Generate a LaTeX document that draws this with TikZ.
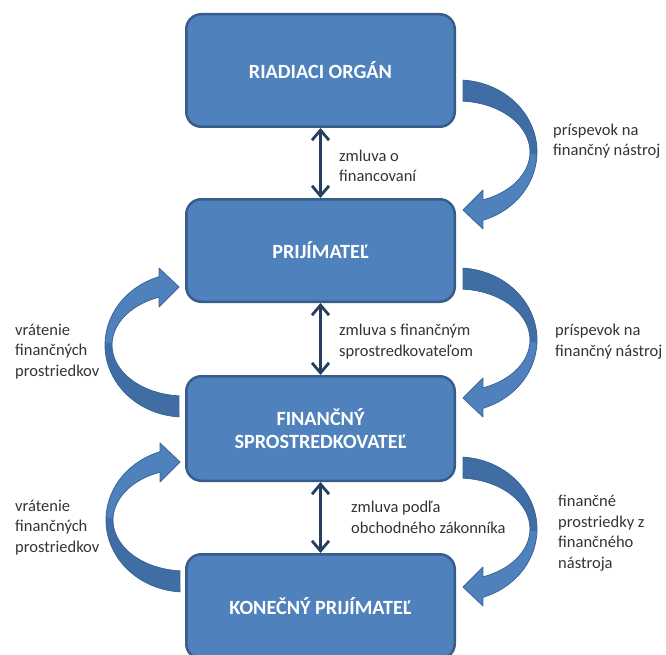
\documentclass[tikz,border=0pt]{standalone}
\usepackage{fontspec}
\setmainfont{Carlito}
\usetikzlibrary{arrows.meta}
\definecolor{boxfill}{HTML}{4F81BD}
\definecolor{boxline}{HTML}{385D8A}
\definecolor{navy}{HTML}{243F60}
\definecolor{arrfill}{HTML}{4F81BD}
\definecolor{arrdark}{HTML}{3F6DA4}
\definecolor{arrline}{HTML}{3A6699}
\definecolor{txt}{HTML}{333333}
\tikzset{
  entity/.style={draw=boxline, line width=2.5pt, fill=boxfill, rounded corners=15pt,
    minimum width=268.5pt, inner sep=0pt, align=center, text=white,
    font=\fontsize{20.2}{23}\selectfont\bfseries},
  lbl/.style={align=left, inner sep=0pt, text=txt, font=\fontsize{16.5}{20.5}\selectfont, anchor=base west},
  dbl/.style={draw=navy, line width=2.8pt,
    {Straight Barb[length=10pt,width=17pt]}-{Straight Barb[length=10pt,width=17pt]}},
  curvarrow/.pic={
    \path[fill=arrfill]
      (0,130) -- plot[domain=93.6:251.6,samples=50,variable=\t] ({5+79*cos(\t)},{58+72*sin(\t)})
      -- (-20,-19) -- (0,0) -- (-20,20)
      -- plot[domain=249.7:94,samples=50,variable=\t] ({5+72*cos(\t)},{58+51*sin(\t)}) -- cycle;
    \path[fill=arrdark]
      (0,130) -- plot[domain=93.6:182,samples=40,variable=\t] ({5+79*cos(\t)},{58+72*sin(\t)})
      -- plot[domain=182:94,samples=40,variable=\t] ({5+72*cos(\t)},{58+51*sin(\t)}) -- cycle;
    \path[draw=arrline, line width=0.8pt, line join=round]
      (0,130) -- plot[domain=93.6:251.6,samples=50,variable=\t] ({5+79*cos(\t)},{58+72*sin(\t)})
      -- (-20,-19) -- (0,0) -- (-20,20)
      -- plot[domain=249.7:94,samples=50,variable=\t] ({5+72*cos(\t)},{58+51*sin(\t)}) -- cycle;
  }
}
\begin{document}
\begin{tikzpicture}[x=1pt,y=-1pt]
\useasboundingbox (0,0) rectangle (666,655);
\clip (0,0) rectangle (666,655);

% boxes
\node[entity, minimum height=112.5pt] (b1) at (320.5,70.5) {RIADIACI ORGÁN};
\node[entity, minimum height=102.5pt] (b2) at (320.5,250.5) {PRIJÍMATEĽ};
\node[entity, minimum height=104.5pt] (b3) at (320.5,428.5) {FINANČNÝ\\SPROSTREDKOVATEĽ};
\node[entity, minimum height=104.5pt] (b4) at (320.5,606.5) {KONEČNÝ PRIJÍMATEĽ};

% double arrows
\draw[dbl] (b1.south) -- (b2.north);
\draw[dbl] (b2.south) -- (b3.north);
\draw[dbl] (b3.south) -- (b4.north);

% curved arrows
\pic[rotate=180] at (463,210) {curvarrow};
\pic[rotate=180] at (463,398) {curvarrow};
\pic[rotate=180] at (463,587) {curvarrow};
\pic at (179,287) {curvarrow};
\pic at (180,462) {curvarrow};

% labels (anchor at baseline of last line)
\node[lbl] (m1) at (339,182) {zmluva o\\financovaní};
\node[lbl] (m2) at (339,356) {zmluva s finančným\\sprostredkovateľom};
\node[lbl] (m3) at (351,533) {zmluva podľa\\obchodného zákonníka};
\node[lbl] (r1) at (553,156) {príspevok na\\finančný nástroj};
\node[lbl] (r2) at (555,356) {príspevok na\\finančný nástroj};
\node[lbl] (r3) at (558,568) {finančné\\prostriedky z\\finančného\\nástroja};
\node[lbl] (l1) at (15,376) {vrátenie\\finančných\\prostriedkov};
\node[lbl] (l2) at (15,552) {vrátenie\\finančných\\prostriedkov};
\end{tikzpicture}
\end{document}
